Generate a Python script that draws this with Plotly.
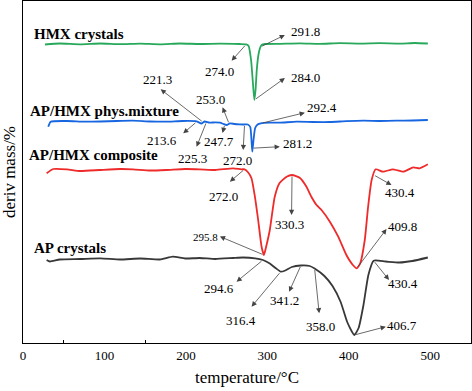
import numpy as np
import plotly.graph_objects as go

# ---------------- data ----------------
T_hmx = [27, 45, 70, 95, 119, 144, 168, 193, 217, 242, 266, 274, 277, 280, 282, 284, 285.5, 287, 289, 291,
         293, 297, 315, 340, 364, 389, 414, 438, 463, 481, 497]
v_hmx = [29.85, 29.95, 29.87, 29.95, 29.88, 29.94, 29.87, 29.95, 29.9, 29.94, 29.9, 29.87, 29.7, 28.3, 26.3, 24.3,
         25.3, 27.3, 28.8, 29.5, 29.8, 29.9, 29.92, 29.97, 29.92, 29.98, 29.94, 29.98, 29.94, 30.0, 29.95]

T_mix = [31, 34, 54, 75, 95, 115, 135, 156, 176, 196, 213, 219, 223, 229, 236, 242, 246, 250, 254, 260,
         266, 272, 276, 279, 280.5, 281.5, 283, 285, 288, 292, 303, 315, 336, 356, 377, 397, 418, 438, 458, 478, 497]
v_mix = [21.63, 22.13, 22.2, 22.13, 22.15, 22.2, 22.23, 22.15, 22.13, 22.2, 22.17, 21.95, 22.15, 22.03, 22.07,
         22.03, 21.9, 21.8, 21.97, 21.9, 21.87, 21.85, 21.85, 21.6, 20.3, 19.13, 20.3, 21.5, 21.85, 21.97, 22.03,
         22.03, 22.13, 22.1, 22.1, 22.18, 22.23, 22.2, 22.23, 22.25, 22.3]

T_comp = [29, 37, 54, 70, 94, 119, 135, 156, 176, 199, 217, 236, 258, 268, 272, 276, 280.5, 284.7, 288.7, 292.9,
          295.8, 298.5, 303, 309, 315, 323.6, 330.3, 340, 348, 354, 360.4, 366.5, 376.7, 387, 397, 405, 409.8, 414,
          419.6, 423.7, 428, 433, 442, 454, 467, 479, 487, 497]
v_comp = [16.97, 17.4, 17.37, 17.2, 17.3, 17.4, 17.37, 17.25, 17.3, 17.4, 17.37, 17.3, 17.47, 17.37, 17.37, 17.1,
          16.47, 14.63, 12.3, 9.63, 8.8, 9.63, 11.3, 14.6, 16.0, 16.63, 16.8, 16.5, 15.63, 14.63, 13.8, 13.3, 12.13,
          10.63, 8.8, 7.8, 7.47, 7.97, 10.3, 13.63, 16.3, 17.37, 17.13, 17.37, 17.13, 17.57, 17.47, 17.87]

T_ap = [29, 33, 45, 70, 95, 119, 144, 168, 184, 199, 217, 236, 258, 270, 285, 294.6, 303, 310, 316.4, 322,
        330, 341.2, 352, 358, 370, 380, 390, 398, 406.7, 412, 418, 424, 430.4, 445, 462, 478, 497]
v_ap = [8.3, 8.15, 8.35, 8.4, 8.47, 8.35, 8.45, 8.35, 8.63, 8.45, 8.5, 8.4, 8.5, 8.55, 8.47, 8.3, 7.95, 7.5, 7.13,
        7.25, 7.6, 7.75, 7.7, 7.45, 6.7, 5.7, 4.1, 2.1, 0.8, 1.5, 3.8, 6.8, 8.23, 8.15, 8.05, 8.2, 8.55]

series_names = ["HMX crystals", "AP/HMX phys.mixture", "AP/HMX composite", "AP crystals"]

# peak labels per series: (label temperature, text position (T, v), arrow head (T, v), font size)
peaks_hmx = [("274.0", (241.7, 27.13), (256.1, 28.23), 13),
             ("291.8", (346.4, 31.2), (321.5, 30.8), 13),
             ("284.0", (347.2, 26.57), (321.5, 26.5), 13)]
peaks_mix = [("221.3", (165, 26.4), (169, 25.37), 13),
             ("253.0", (230.7, 24.4), (245, 23.57), 13),
             ("213.6", (170.2, 20.3), (196.7, 20.97), 13),
             ("225.3", (208, 18.47), (213.1, 19.63), 13),
             ("247.7", (240.5, 20.13), (245, 21.0), 13),
             ("272.0", (263.8, 18.3), (270.3, 19.3), 13),
             ("281.2", (337.4, 19.97), (315.3, 19.63), 13),
             ("292.4", (366.5, 23.53), (346, 23.03), 13)]
peaks_comp = [("272.0", (245.8, 14.63), (254, 16.13), 13),
              ("330.3", (327.6, 11.9), (329.7, 12.8), 13),
              ("430.4", (462.6, 15.03), (452.4, 15.8), 13),
              ("409.8", (465.6, 11.63), (446.3, 11.4), 13),
              ("295.8", (224.5, 10.63), (241.7, 10.65), 11)]
peaks_ap = [("294.6", (240.5, 5.47), (262.2, 6.13), 13),
            ("316.4", (267.5, 2.3), (280.6, 3.63), 13),
            ("341.2", (321.5, 4.3), (326.7, 5.13), 13),
            ("358.0", (365.6, 1.63), (363.6, 2.97), 13),
            ("406.7", (465.6, 1.8), (445.4, 1.63), 13),
            ("430.4", (466.3, 5.97), (449.4, 6.3), 13)]

x_ticks = [0, 100, 200, 300, 400, 500]

# ---------------- figure ----------------
FONT = "Liberation Serif, Times New Roman, serif"
colors = ["#27a85a", "#1766e0", "#ee2a2a", "#383838"]
series = [(T_hmx, v_hmx), (T_mix, v_mix), (T_comp, v_comp), (T_ap, v_ap)]
peak_sets = [peaks_hmx, peaks_mix, peaks_comp, peaks_ap]
name_pos = [(11, 30.9), (6.1, 23.2), (4.9, 18.8), (11, 9.5)]

fig = go.Figure()
for (tx, vy), c, nm in zip(series, colors, series_names):
    fig.add_trace(go.Scatter(x=tx, y=vy, mode="lines", name=nm,
                             line=dict(color=c, width=1.8, shape="spline", smoothing=0.5),
                             showlegend=False))

ann = []
for (tx, vy), peaks in zip(series, peak_sets):
    for lab, tpos, head, fs in peaks:
        t0 = float(lab)
        y0 = float(np.interp(t0, tx, vy))
        ann.append(dict(x=head[0], y=head[1], ax=t0, ay=y0, xref="x", yref="y", axref="x", ayref="y",
                        text="", showarrow=True, arrowhead=2, arrowsize=1.3, arrowwidth=0.8,
                        arrowcolor="#444444", standoff=0, startstandoff=0))
        ann.append(dict(x=tpos[0], y=tpos[1], xref="x", yref="y", text=lab, showarrow=False,
                        font=dict(family=FONT, size=fs, color="black"), xanchor="center", yanchor="middle"))

for nm, (px, py) in zip(series_names, name_pos):
    ann.append(dict(x=px, y=py, xref="x", yref="y", text="<b>" + nm + "</b>", showarrow=False,
                    font=dict(family=FONT, size=15, color="black"), xanchor="left", yanchor="middle"))

fig.update_layout(
    width=472, height=391,
    margin=dict(l=23, r=1, t=1, b=48),
    paper_bgcolor="white", plot_bgcolor="white",
    font=dict(family=FONT, color="black"),
    annotations=ann,
    xaxis=dict(range=[0, 550], tickvals=x_ticks, ticktext=[str(v) for v in x_ticks], automargin=False,
               ticks="", showgrid=False, zeroline=False, showline=True, linecolor="black",
               linewidth=1.2, mirror=True, tickfont=dict(family=FONT, size=13, color="black"),
               minor=dict(tickvals=[50, 150], ticks="inside", ticklen=3, tickcolor="black", tickwidth=1),
               title=dict(text="temperature/°C", font=dict(family=FONT, size=17, color="black"), standoff=9)),
    yaxis=dict(range=[0, 34.2], showticklabels=False, ticks="", showgrid=False, zeroline=False,
               showline=True, linecolor="black", linewidth=1.2, mirror=True, automargin=False,
               title=dict(text="deriv mass/%", font=dict(family=FONT, size=17, color="black"), standoff=4)),
)

fig.write_html("out.html", config={"displayModeBar": False},
               post_script="document.body.style.margin='0';document.body.style.overflow='hidden';")
